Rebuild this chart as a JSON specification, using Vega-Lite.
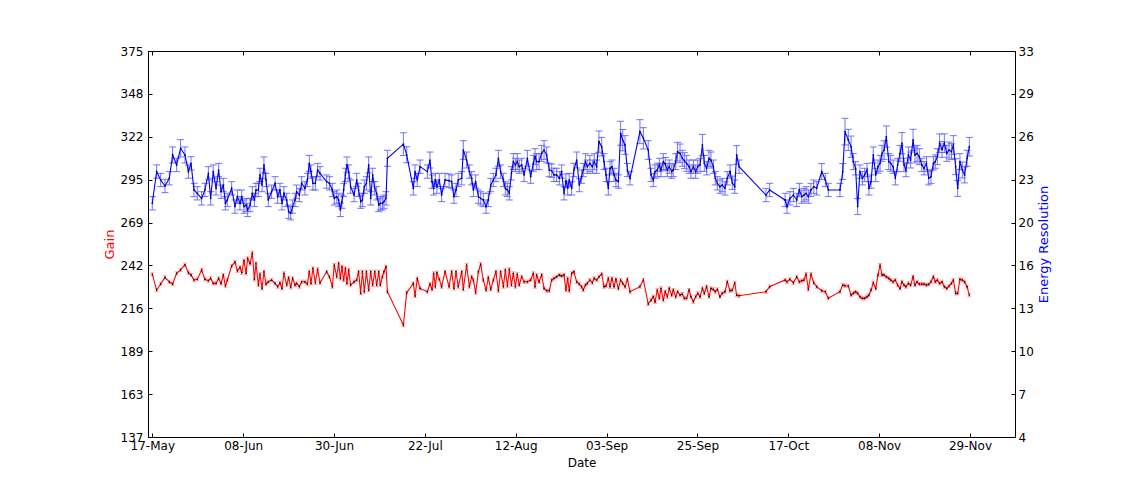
{
"$schema":"https://vega.github.io/schema/vega-lite/v6.json",
"width":867,"height":386,
"autosize":{"type":"none"},
"padding":{"left":148,"top":51,"right":109,"bottom":48},
"background":"white",
"config":{"font":"DejaVu Sans","view":{"stroke":"black","strokeWidth":1},
"axis":{"domainColor":"black","tickColor":"black","labelColor":"black","labelFont":"DejaVu Sans","labelFontSize":12,"titleFont":"DejaVu Sans","titleFontWeight":"normal","titleColor":"black","grid":false}},
"data":{"values":[
{"date":"2014-05-17T00:00Z","gain":237.3,"gain_err":1,"res":21.56,"res_err":0.5},
{"date":"2014-05-18T01:00Z","gain":227.6,"gain_err":1,"res":23.94,"res_err":0.5},
{"date":"2014-05-19T00:00Z","gain":231.3,"gain_err":1,"res":23.31,"res_err":0.5},
{"date":"2014-05-20T01:00Z","gain":235.4,"gain_err":1,"res":22.86,"res_err":0.5},
{"date":"2014-05-21T02:00Z","gain":232.7,"gain_err":1,"res":23.44,"res_err":0.5},
{"date":"2014-05-21T21:00Z","gain":231.3,"gain_err":1,"res":25.19,"res_err":0.6},
{"date":"2014-05-22T20:00Z","gain":237.9,"gain_err":1,"res":24.44,"res_err":0.5},
{"date":"2014-05-23T19:00Z","gain":240.0,"gain_err":1,"res":25.69,"res_err":0.65},
{"date":"2014-05-24T20:00Z","gain":243.2,"gain_err":1,"res":25.19,"res_err":0.6},
{"date":"2014-05-25T16:00Z","gain":238.3,"gain_err":1,"res":23.94,"res_err":0.5},
{"date":"2014-05-26T07:00Z","gain":236.9,"gain_err":1,"res":24.56,"res_err":0.5},
{"date":"2014-05-27T00:00Z","gain":233.8,"gain_err":1,"res":22.56,"res_err":0.5},
{"date":"2014-05-27T19:00Z","gain":234.2,"gain_err":1,"res":22.31,"res_err":0.5},
{"date":"2014-05-28T20:00Z","gain":240.0,"gain_err":1,"res":21.93,"res_err":0.5},
{"date":"2014-05-29T15:00Z","gain":234.2,"gain_err":1,"res":22.56,"res_err":0.5},
{"date":"2014-05-30T11:00Z","gain":233.4,"gain_err":1,"res":23.81,"res_err":0.5},
{"date":"2014-05-31T00:00Z","gain":234.8,"gain_err":1,"res":21.93,"res_err":0.5},
{"date":"2014-05-31T15:00Z","gain":231.7,"gain_err":1,"res":23.94,"res_err":0.5},
{"date":"2014-06-01T07:00Z","gain":231.7,"gain_err":1,"res":22.68,"res_err":0.5},
{"date":"2014-06-01T22:00Z","gain":234.8,"gain_err":1,"res":24.06,"res_err":0.5},
{"date":"2014-06-02T12:00Z","gain":231.7,"gain_err":1,"res":22.43,"res_err":0.5},
{"date":"2014-06-03T01:00Z","gain":236.9,"gain_err":1,"res":22.93,"res_err":0.5},
{"date":"2014-06-03T13:00Z","gain":230.1,"gain_err":1,"res":21.56,"res_err":0.5},
{"date":"2014-06-04T00:00Z","gain":233.8,"gain_err":1,"res":21.81,"res_err":0.5},
{"date":"2014-06-05T01:00Z","gain":242.4,"gain_err":1,"res":22.68,"res_err":0.5},
{"date":"2014-06-05T20:00Z","gain":244.9,"gain_err":1,"res":21.31,"res_err":0.5},
{"date":"2014-06-06T10:00Z","gain":239.5,"gain_err":1,"res":22.06,"res_err":0.5},
{"date":"2014-06-07T01:00Z","gain":241.6,"gain_err":1,"res":21.56,"res_err":0.5},
{"date":"2014-06-07T11:00Z","gain":238.3,"gain_err":1,"res":22.06,"res_err":0.5},
{"date":"2014-06-08T00:00Z","gain":245.7,"gain_err":1,"res":21.31,"res_err":0.5},
{"date":"2014-06-08T12:00Z","gain":237.9,"gain_err":1,"res":21.43,"res_err":0.5},
{"date":"2014-06-08T21:00Z","gain":247.1,"gain_err":1,"res":21.06,"res_err":0.5},
{"date":"2014-06-09T11:00Z","gain":244.0,"gain_err":1,"res":21.43,"res_err":0.5},
{"date":"2014-06-10T00:00Z","gain":250.6,"gain_err":1,"res":22.31,"res_err":0.5},
{"date":"2014-06-10T12:00Z","gain":234.2,"gain_err":1,"res":21.81,"res_err":0.5},
{"date":"2014-06-10T21:00Z","gain":244.0,"gain_err":1,"res":22.56,"res_err":0.5},
{"date":"2014-06-11T11:00Z","gain":230.7,"gain_err":1,"res":22.56,"res_err":0.5},
{"date":"2014-06-11T20:00Z","gain":237.5,"gain_err":1,"res":23.69,"res_err":0.5},
{"date":"2014-06-12T08:00Z","gain":228.6,"gain_err":1,"res":22.93,"res_err":0.5},
{"date":"2014-06-12T19:00Z","gain":238.9,"gain_err":1,"res":24.44,"res_err":0.6},
{"date":"2014-06-13T07:00Z","gain":231.3,"gain_err":1,"res":23.31,"res_err":0.5},
{"date":"2014-06-13T20:00Z","gain":232.7,"gain_err":1,"res":21.81,"res_err":0.5},
{"date":"2014-06-14T15:00Z","gain":233.8,"gain_err":1,"res":22.43,"res_err":0.5},
{"date":"2014-06-15T11:00Z","gain":231.7,"gain_err":1,"res":23.06,"res_err":0.5},
{"date":"2014-06-16T02:00Z","gain":229.7,"gain_err":1,"res":22.06,"res_err":0.5},
{"date":"2014-06-16T15:00Z","gain":232.1,"gain_err":1,"res":22.56,"res_err":0.5},
{"date":"2014-06-17T03:00Z","gain":228.6,"gain_err":1,"res":21.56,"res_err":0.5},
{"date":"2014-06-17T14:00Z","gain":237.9,"gain_err":1,"res":22.31,"res_err":0.5},
{"date":"2014-06-18T06:00Z","gain":230.7,"gain_err":1,"res":21.81,"res_err":0.5},
{"date":"2014-06-18T17:00Z","gain":235.2,"gain_err":1,"res":20.93,"res_err":0.5},
{"date":"2014-06-19T05:00Z","gain":229.3,"gain_err":1,"res":20.81,"res_err":0.5},
{"date":"2014-06-19T16:00Z","gain":234.8,"gain_err":1,"res":21.31,"res_err":0.5},
{"date":"2014-06-20T06:00Z","gain":230.7,"gain_err":1,"res":21.81,"res_err":0.5},
{"date":"2014-06-20T15:00Z","gain":231.7,"gain_err":1,"res":22.43,"res_err":0.5},
{"date":"2014-06-21T07:00Z","gain":229.7,"gain_err":1,"res":22.18,"res_err":0.5},
{"date":"2014-06-21T20:00Z","gain":232.7,"gain_err":1,"res":23.06,"res_err":0.5},
{"date":"2014-06-22T15:00Z","gain":232.7,"gain_err":1,"res":22.68,"res_err":0.5},
{"date":"2014-06-23T05:00Z","gain":231.3,"gain_err":1,"res":23.31,"res_err":0.5},
{"date":"2014-06-23T16:00Z","gain":238.9,"gain_err":1,"res":24.56,"res_err":0.6},
{"date":"2014-06-24T02:00Z","gain":231.7,"gain_err":1,"res":23.94,"res_err":0.5},
{"date":"2014-06-24T13:00Z","gain":241.0,"gain_err":1,"res":23.06,"res_err":0.5},
{"date":"2014-06-25T03:00Z","gain":232.1,"gain_err":1,"res":23.06,"res_err":0.5},
{"date":"2014-06-25T16:00Z","gain":240.4,"gain_err":1,"res":24.06,"res_err":0.5},
{"date":"2014-06-26T06:00Z","gain":232.1,"gain_err":1,"res":23.81,"res_err":0.5},
{"date":"2014-06-27T20:00Z","gain":238.9,"gain_err":1,"res":23.19,"res_err":0.5},
{"date":"2014-06-28T12:00Z","gain":235.8,"gain_err":1,"res":23.06,"res_err":0.5},
{"date":"2014-06-29T05:00Z","gain":229.7,"gain_err":1,"res":22.56,"res_err":0.5},
{"date":"2014-06-29T16:00Z","gain":243.0,"gain_err":1,"res":21.93,"res_err":0.5},
{"date":"2014-06-30T06:00Z","gain":235.8,"gain_err":1,"res":22.06,"res_err":0.5},
{"date":"2014-06-30T17:00Z","gain":244.0,"gain_err":1,"res":21.81,"res_err":0.5},
{"date":"2014-07-01T03:00Z","gain":234.8,"gain_err":1,"res":21.06,"res_err":0.5},
{"date":"2014-07-01T12:00Z","gain":242.0,"gain_err":1,"res":21.68,"res_err":0.5},
{"date":"2014-07-01T22:00Z","gain":233.8,"gain_err":1,"res":22.56,"res_err":0.5},
{"date":"2014-07-02T08:00Z","gain":241.0,"gain_err":1,"res":23.69,"res_err":0.5},
{"date":"2014-07-02T17:00Z","gain":231.7,"gain_err":1,"res":24.44,"res_err":0.6},
{"date":"2014-07-03T03:00Z","gain":240.0,"gain_err":1,"res":23.94,"res_err":0.5},
{"date":"2014-07-03T14:00Z","gain":230.7,"gain_err":1,"res":22.81,"res_err":0.5},
{"date":"2014-07-04T10:00Z","gain":232.7,"gain_err":1,"res":22.18,"res_err":0.5},
{"date":"2014-07-05T01:00Z","gain":233.8,"gain_err":1,"res":23.31,"res_err":0.5},
{"date":"2014-07-05T12:00Z","gain":238.9,"gain_err":1,"res":22.56,"res_err":0.5},
{"date":"2014-07-06T00:00Z","gain":225.6,"gain_err":1,"res":21.68,"res_err":0.5},
{"date":"2014-07-06T10:00Z","gain":238.9,"gain_err":1,"res":21.81,"res_err":0.5},
{"date":"2014-07-06T21:00Z","gain":226.6,"gain_err":1,"res":22.81,"res_err":0.5},
{"date":"2014-07-07T09:00Z","gain":238.9,"gain_err":1,"res":23.06,"res_err":0.5},
{"date":"2014-07-07T22:00Z","gain":227.6,"gain_err":1,"res":24.44,"res_err":0.6},
{"date":"2014-07-08T10:00Z","gain":238.9,"gain_err":1,"res":21.93,"res_err":0.5},
{"date":"2014-07-08T21:00Z","gain":230.7,"gain_err":1,"res":23.69,"res_err":0.5},
{"date":"2014-07-09T09:00Z","gain":238.9,"gain_err":1,"res":22.68,"res_err":0.5},
{"date":"2014-07-09T20:00Z","gain":230.7,"gain_err":1,"res":22.31,"res_err":0.5},
{"date":"2014-07-10T08:00Z","gain":238.9,"gain_err":1,"res":21.43,"res_err":0.5},
{"date":"2014-07-10T17:00Z","gain":230.7,"gain_err":1,"res":21.56,"res_err":0.5},
{"date":"2014-07-11T05:00Z","gain":235.8,"gain_err":1,"res":21.56,"res_err":0.5},
{"date":"2014-07-11T14:00Z","gain":238.9,"gain_err":1,"res":21.68,"res_err":0.5},
{"date":"2014-07-12T02:00Z","gain":242.0,"gain_err":1,"res":21.93,"res_err":0.5},
{"date":"2014-07-12T10:00Z","gain":226.6,"gain_err":1,"res":24.94,"res_err":0.6},
{"date":"2014-07-16T06:00Z","gain":206.0,"gain_err":1,"res":26.0,"res_err":0.85},
{"date":"2014-07-17T01:00Z","gain":226.0,"gain_err":1,"res":25.2,"res_err":0.6},
{"date":"2014-07-18T15:00Z","gain":231.7,"gain_err":1,"res":22.68,"res_err":0.5},
{"date":"2014-07-19T01:00Z","gain":223.9,"gain_err":1,"res":23.94,"res_err":0.5},
{"date":"2014-07-19T14:00Z","gain":234.8,"gain_err":1,"res":23.31,"res_err":0.5},
{"date":"2014-07-20T06:00Z","gain":228.6,"gain_err":1,"res":24.31,"res_err":0.5},
{"date":"2014-07-22T00:00Z","gain":226.6,"gain_err":1,"res":23.94,"res_err":0.5},
{"date":"2014-07-22T15:00Z","gain":231.3,"gain_err":1,"res":24.81,"res_err":0.6},
{"date":"2014-07-23T03:00Z","gain":228.0,"gain_err":1,"res":23.19,"res_err":0.5},
{"date":"2014-07-23T12:00Z","gain":237.9,"gain_err":1,"res":22.68,"res_err":0.5},
{"date":"2014-07-23T22:00Z","gain":229.7,"gain_err":1,"res":23.31,"res_err":0.5},
{"date":"2014-07-24T07:00Z","gain":238.3,"gain_err":1,"res":22.81,"res_err":0.5},
{"date":"2014-07-24T21:00Z","gain":234.2,"gain_err":1,"res":23.31,"res_err":0.5},
{"date":"2014-07-25T10:00Z","gain":229.7,"gain_err":1,"res":22.18,"res_err":0.5},
{"date":"2014-07-26T06:00Z","gain":238.9,"gain_err":1,"res":23.31,"res_err":0.5},
{"date":"2014-07-27T05:00Z","gain":229.7,"gain_err":1,"res":23.26,"res_err":0.5},
{"date":"2014-07-27T20:00Z","gain":238.9,"gain_err":1,"res":23.19,"res_err":0.5},
{"date":"2014-07-28T09:00Z","gain":228.6,"gain_err":1,"res":22.06,"res_err":0.5},
{"date":"2014-07-28T21:00Z","gain":238.9,"gain_err":1,"res":22.56,"res_err":0.5},
{"date":"2014-07-29T10:00Z","gain":229.7,"gain_err":1,"res":23.31,"res_err":0.5},
{"date":"2014-07-30T06:00Z","gain":238.9,"gain_err":1,"res":23.44,"res_err":0.5},
{"date":"2014-07-30T15:00Z","gain":228.0,"gain_err":1,"res":25.56,"res_err":0.7},
{"date":"2014-07-31T10:00Z","gain":243.0,"gain_err":1,"res":24.81,"res_err":0.6},
{"date":"2014-08-01T02:00Z","gain":229.7,"gain_err":1,"res":23.94,"res_err":0.5},
{"date":"2014-08-01T15:00Z","gain":235.8,"gain_err":1,"res":23.44,"res_err":0.5},
{"date":"2014-08-02T01:00Z","gain":233.8,"gain_err":1,"res":22.56,"res_err":0.5},
{"date":"2014-08-02T14:00Z","gain":226.0,"gain_err":1,"res":23.19,"res_err":0.5},
{"date":"2014-08-03T06:00Z","gain":238.9,"gain_err":1,"res":22.06,"res_err":0.5},
{"date":"2014-08-03T19:00Z","gain":243.6,"gain_err":1,"res":21.93,"res_err":0.5},
{"date":"2014-08-04T10:00Z","gain":233.8,"gain_err":1,"res":21.81,"res_err":0.5},
{"date":"2014-08-05T02:00Z","gain":227.6,"gain_err":1,"res":21.31,"res_err":0.5},
{"date":"2014-08-05T15:00Z","gain":235.4,"gain_err":1,"res":21.81,"res_err":0.5},
{"date":"2014-08-06T05:00Z","gain":228.0,"gain_err":1,"res":22.93,"res_err":0.5},
{"date":"2014-08-06T20:00Z","gain":233.8,"gain_err":1,"res":23.31,"res_err":0.5},
{"date":"2014-08-07T11:00Z","gain":238.9,"gain_err":1,"res":23.69,"res_err":0.5},
{"date":"2014-08-08T01:00Z","gain":227.2,"gain_err":1,"res":24.94,"res_err":0.6},
{"date":"2014-08-08T14:00Z","gain":238.9,"gain_err":1,"res":23.94,"res_err":0.5},
{"date":"2014-08-09T06:00Z","gain":229.7,"gain_err":1,"res":23.31,"res_err":0.5},
{"date":"2014-08-09T17:00Z","gain":240.0,"gain_err":1,"res":22.68,"res_err":0.5},
{"date":"2014-08-10T05:00Z","gain":230.1,"gain_err":1,"res":22.56,"res_err":0.5},
{"date":"2014-08-10T16:00Z","gain":240.4,"gain_err":1,"res":22.31,"res_err":0.5},
{"date":"2014-08-11T04:00Z","gain":230.7,"gain_err":1,"res":23.81,"res_err":0.5},
{"date":"2014-08-11T15:00Z","gain":237.9,"gain_err":1,"res":24.69,"res_err":0.6},
{"date":"2014-08-12T03:00Z","gain":229.7,"gain_err":1,"res":24.44,"res_err":0.5},
{"date":"2014-08-12T14:00Z","gain":237.5,"gain_err":1,"res":24.69,"res_err":0.6},
{"date":"2014-08-13T01:00Z","gain":230.7,"gain_err":1,"res":24.31,"res_err":0.5},
{"date":"2014-08-13T15:00Z","gain":235.8,"gain_err":1,"res":24.44,"res_err":0.5},
{"date":"2014-08-14T05:00Z","gain":232.7,"gain_err":1,"res":23.69,"res_err":0.5},
{"date":"2014-08-15T00:00Z","gain":232.7,"gain_err":1,"res":24.94,"res_err":0.6},
{"date":"2014-08-15T19:00Z","gain":233.8,"gain_err":1,"res":23.56,"res_err":0.5},
{"date":"2014-08-16T10:00Z","gain":237.9,"gain_err":1,"res":24.56,"res_err":0.6},
{"date":"2014-08-16T20:00Z","gain":229.7,"gain_err":1,"res":25.06,"res_err":0.6},
{"date":"2014-08-17T05:00Z","gain":236.9,"gain_err":1,"res":24.69,"res_err":0.6},
{"date":"2014-08-17T19:00Z","gain":232.7,"gain_err":1,"res":24.69,"res_err":0.6},
{"date":"2014-08-18T10:00Z","gain":236.9,"gain_err":1,"res":25.31,"res_err":0.6},
{"date":"2014-08-19T00:00Z","gain":228.6,"gain_err":1,"res":25.56,"res_err":0.7},
{"date":"2014-08-19T15:00Z","gain":227.2,"gain_err":1,"res":25.19,"res_err":0.6},
{"date":"2014-08-20T06:00Z","gain":227.2,"gain_err":1,"res":24.06,"res_err":0.5},
{"date":"2014-08-20T20:00Z","gain":233.8,"gain_err":1,"res":24.01,"res_err":0.5},
{"date":"2014-08-21T09:00Z","gain":234.8,"gain_err":1,"res":23.69,"res_err":0.5},
{"date":"2014-08-22T00:00Z","gain":235.8,"gain_err":1,"res":23.69,"res_err":0.5},
{"date":"2014-08-22T16:00Z","gain":236.9,"gain_err":1,"res":23.44,"res_err":0.5},
{"date":"2014-08-23T05:00Z","gain":236.2,"gain_err":1,"res":23.94,"res_err":0.5},
{"date":"2014-08-23T19:00Z","gain":236.9,"gain_err":1,"res":22.31,"res_err":0.5},
{"date":"2014-08-24T06:00Z","gain":227.6,"gain_err":1,"res":23.26,"res_err":0.5},
{"date":"2014-08-24T16:00Z","gain":234.8,"gain_err":1,"res":22.68,"res_err":0.5},
{"date":"2014-08-25T01:00Z","gain":227.2,"gain_err":1,"res":23.31,"res_err":0.5},
{"date":"2014-08-25T15:00Z","gain":237.9,"gain_err":1,"res":22.68,"res_err":0.5},
{"date":"2014-08-26T04:00Z","gain":238.9,"gain_err":1,"res":24.06,"res_err":0.5},
{"date":"2014-08-26T20:00Z","gain":232.7,"gain_err":1,"res":24.81,"res_err":0.6},
{"date":"2014-08-27T11:00Z","gain":231.3,"gain_err":1,"res":22.93,"res_err":0.5},
{"date":"2014-08-28T00:00Z","gain":229.7,"gain_err":1,"res":23.56,"res_err":0.5},
{"date":"2014-08-28T10:00Z","gain":227.6,"gain_err":1,"res":24.06,"res_err":0.5},
{"date":"2014-08-28T22:00Z","gain":230.7,"gain_err":1,"res":24.69,"res_err":0.6},
{"date":"2014-08-29T09:00Z","gain":231.7,"gain_err":1,"res":24.31,"res_err":0.5},
{"date":"2014-08-30T00:00Z","gain":233.8,"gain_err":1,"res":24.56,"res_err":0.6},
{"date":"2014-08-30T14:00Z","gain":232.1,"gain_err":1,"res":24.31,"res_err":0.5},
{"date":"2014-08-31T01:00Z","gain":234.8,"gain_err":1,"res":24.69,"res_err":0.6},
{"date":"2014-08-31T15:00Z","gain":233.8,"gain_err":1,"res":24.31,"res_err":0.5},
{"date":"2014-09-01T04:00Z","gain":235.8,"gain_err":1,"res":26.19,"res_err":0.8},
{"date":"2014-09-01T20:00Z","gain":237.5,"gain_err":1,"res":25.81,"res_err":0.7},
{"date":"2014-09-02T09:00Z","gain":229.7,"gain_err":1,"res":24.69,"res_err":0.6},
{"date":"2014-09-02T21:00Z","gain":230.1,"gain_err":1,"res":23.69,"res_err":0.5},
{"date":"2014-09-03T10:00Z","gain":234.8,"gain_err":1,"res":22.68,"res_err":0.5},
{"date":"2014-09-03T20:00Z","gain":229.7,"gain_err":1,"res":24.19,"res_err":0.5},
{"date":"2014-09-04T07:00Z","gain":234.8,"gain_err":1,"res":24.31,"res_err":0.5},
{"date":"2014-09-04T19:00Z","gain":229.7,"gain_err":1,"res":23.69,"res_err":0.5},
{"date":"2014-09-05T06:00Z","gain":234.2,"gain_err":1,"res":23.31,"res_err":0.5},
{"date":"2014-09-05T20:00Z","gain":228.6,"gain_err":1,"res":23.19,"res_err":0.5},
{"date":"2014-09-06T09:00Z","gain":233.8,"gain_err":1,"res":26.82,"res_err":0.9},
{"date":"2014-09-06T21:00Z","gain":231.7,"gain_err":1,"res":26.3,"res_err":0.8},
{"date":"2014-09-07T10:00Z","gain":229.7,"gain_err":1,"res":25.94,"res_err":0.7},
{"date":"2014-09-08T00:00Z","gain":234.2,"gain_err":1,"res":24.06,"res_err":0.5},
{"date":"2014-09-08T15:00Z","gain":226.6,"gain_err":1,"res":23.44,"res_err":0.5},
{"date":"2014-09-11T00:00Z","gain":229.7,"gain_err":1,"res":26.94,"res_err":0.9},
{"date":"2014-09-11T20:00Z","gain":233.8,"gain_err":1,"res":26.44,"res_err":0.8},
{"date":"2014-09-13T00:00Z","gain":219.0,"gain_err":1,"res":25.56,"res_err":0.7},
{"date":"2014-09-13T16:00Z","gain":221.4,"gain_err":1,"res":23.69,"res_err":0.5},
{"date":"2014-09-14T05:00Z","gain":223.5,"gain_err":1,"res":23.31,"res_err":0.5},
{"date":"2014-09-14T15:00Z","gain":220.4,"gain_err":1,"res":23.94,"res_err":0.5},
{"date":"2014-09-15T04:00Z","gain":227.6,"gain_err":1,"res":24.06,"res_err":0.5},
{"date":"2014-09-15T16:00Z","gain":222.5,"gain_err":1,"res":24.44,"res_err":0.5},
{"date":"2014-09-16T01:00Z","gain":228.6,"gain_err":1,"res":24.06,"res_err":0.5},
{"date":"2014-09-16T15:00Z","gain":221.4,"gain_err":1,"res":24.69,"res_err":0.6},
{"date":"2014-09-17T02:00Z","gain":226.6,"gain_err":1,"res":24.5,"res_err":0.5},
{"date":"2014-09-17T14:00Z","gain":223.5,"gain_err":1,"res":24.06,"res_err":0.5},
{"date":"2014-09-18T01:00Z","gain":228.6,"gain_err":1,"res":24.31,"res_err":0.5},
{"date":"2014-09-18T15:00Z","gain":224.5,"gain_err":1,"res":23.94,"res_err":0.5},
{"date":"2014-09-19T00:00Z","gain":227.6,"gain_err":1,"res":24.06,"res_err":0.5},
{"date":"2014-09-19T14:00Z","gain":223.5,"gain_err":1,"res":24.69,"res_err":0.6},
{"date":"2014-09-20T01:00Z","gain":226.6,"gain_err":1,"res":25.44,"res_err":0.7},
{"date":"2014-09-20T15:00Z","gain":224.5,"gain_err":1,"res":25.31,"res_err":0.7},
{"date":"2014-09-21T04:00Z","gain":225.1,"gain_err":1,"res":24.94,"res_err":0.6},
{"date":"2014-09-21T16:00Z","gain":222.5,"gain_err":1,"res":24.76,"res_err":0.6},
{"date":"2014-09-22T05:00Z","gain":222.5,"gain_err":1,"res":24.56,"res_err":0.6},
{"date":"2014-09-22T19:00Z","gain":227.6,"gain_err":1,"res":24.31,"res_err":0.5},
{"date":"2014-09-23T06:00Z","gain":223.5,"gain_err":1,"res":23.94,"res_err":0.5},
{"date":"2014-09-23T20:00Z","gain":220.4,"gain_err":1,"res":24.31,"res_err":0.5},
{"date":"2014-09-24T09:00Z","gain":223.5,"gain_err":1,"res":23.94,"res_err":0.5},
{"date":"2014-09-24T21:00Z","gain":225.6,"gain_err":1,"res":24.31,"res_err":0.5},
{"date":"2014-09-25T10:00Z","gain":223.5,"gain_err":1,"res":24.44,"res_err":0.5},
{"date":"2014-09-26T00:00Z","gain":228.6,"gain_err":1,"res":25.94,"res_err":0.8},
{"date":"2014-09-26T11:00Z","gain":225.6,"gain_err":1,"res":24.56,"res_err":0.6},
{"date":"2014-09-27T00:00Z","gain":229.7,"gain_err":1,"res":24.19,"res_err":0.5},
{"date":"2014-09-27T14:00Z","gain":223.5,"gain_err":1,"res":24.94,"res_err":0.6},
{"date":"2014-09-28T01:00Z","gain":228.6,"gain_err":1,"res":24.81,"res_err":0.6},
{"date":"2014-09-28T15:00Z","gain":228.0,"gain_err":1,"res":24.31,"res_err":0.5},
{"date":"2014-09-29T02:00Z","gain":226.6,"gain_err":1,"res":23.44,"res_err":0.5},
{"date":"2014-09-29T14:00Z","gain":228.0,"gain_err":1,"res":23.06,"res_err":0.5},
{"date":"2014-09-30T05:00Z","gain":223.5,"gain_err":1,"res":22.81,"res_err":0.5},
{"date":"2014-09-30T18:00Z","gain":225.6,"gain_err":1,"res":22.93,"res_err":0.5},
{"date":"2014-10-01T10:00Z","gain":226.6,"gain_err":1,"res":22.68,"res_err":0.5},
{"date":"2014-10-01T23:00Z","gain":232.7,"gain_err":1,"res":23.44,"res_err":0.5},
{"date":"2014-10-02T15:00Z","gain":227.2,"gain_err":1,"res":23.94,"res_err":0.5},
{"date":"2014-10-03T04:00Z","gain":227.6,"gain_err":1,"res":23.1,"res_err":0.5},
{"date":"2014-10-03T18:00Z","gain":232.1,"gain_err":1,"res":22.81,"res_err":0.5},
{"date":"2014-10-04T05:00Z","gain":224.5,"gain_err":1,"res":25.19,"res_err":0.7},
{"date":"2014-10-04T19:00Z","gain":224.1,"gain_err":1,"res":24.31,"res_err":0.5},
{"date":"2014-10-11T06:00Z","gain":226.6,"gain_err":1,"res":22.18,"res_err":0.5},
{"date":"2014-10-12T03:00Z","gain":229.7,"gain_err":1,"res":22.56,"res_err":0.5},
{"date":"2014-10-15T20:00Z","gain":233.8,"gain_err":1,"res":21.81,"res_err":0.5},
{"date":"2014-10-16T07:00Z","gain":232.7,"gain_err":1,"res":21.31,"res_err":0.5},
{"date":"2014-10-17T00:00Z","gain":234.2,"gain_err":1,"res":21.93,"res_err":0.5},
{"date":"2014-10-17T20:00Z","gain":232.1,"gain_err":1,"res":22.18,"res_err":0.5},
{"date":"2014-10-18T15:00Z","gain":235.8,"gain_err":1,"res":21.81,"res_err":0.5},
{"date":"2014-10-19T06:00Z","gain":232.7,"gain_err":1,"res":22.56,"res_err":0.5},
{"date":"2014-10-19T20:00Z","gain":233.4,"gain_err":1,"res":22.06,"res_err":0.5},
{"date":"2014-10-20T09:00Z","gain":233.8,"gain_err":1,"res":22.18,"res_err":0.5},
{"date":"2014-10-20T21:00Z","gain":237.5,"gain_err":1,"res":22.31,"res_err":0.5},
{"date":"2014-10-21T10:00Z","gain":228.0,"gain_err":1,"res":22.06,"res_err":0.5},
{"date":"2014-10-22T01:00Z","gain":237.5,"gain_err":1,"res":22.56,"res_err":0.5},
{"date":"2014-10-22T17:00Z","gain":232.1,"gain_err":1,"res":22.81,"res_err":0.5},
{"date":"2014-10-23T10:00Z","gain":229.7,"gain_err":1,"res":22.68,"res_err":0.5},
{"date":"2014-10-24T15:00Z","gain":227.2,"gain_err":1,"res":23.94,"res_err":0.6},
{"date":"2014-10-25T12:00Z","gain":226.6,"gain_err":1,"res":23.31,"res_err":0.5},
{"date":"2014-10-26T05:00Z","gain":222.5,"gain_err":1,"res":22.56,"res_err":0.5},
{"date":"2014-10-29T00:00Z","gain":226.6,"gain_err":1,"res":22.56,"res_err":0.5},
{"date":"2014-10-29T16:00Z","gain":230.7,"gain_err":1,"res":23.94,"res_err":0.6},
{"date":"2014-10-30T05:00Z","gain":230.3,"gain_err":1,"res":26.94,"res_err":1.0},
{"date":"2014-10-31T00:00Z","gain":230.1,"gain_err":1,"res":26.32,"res_err":0.8},
{"date":"2014-10-31T16:00Z","gain":224.5,"gain_err":1,"res":25.81,"res_err":0.8},
{"date":"2014-11-01T05:00Z","gain":225.6,"gain_err":1,"res":24.69,"res_err":0.6},
{"date":"2014-11-01T18:00Z","gain":226.6,"gain_err":1,"res":24.19,"res_err":0.5},
{"date":"2014-11-02T06:00Z","gain":225.6,"gain_err":1,"res":21.31,"res_err":0.6},
{"date":"2014-11-02T19:00Z","gain":223.5,"gain_err":1,"res":23.94,"res_err":0.5},
{"date":"2014-11-03T09:00Z","gain":222.5,"gain_err":1,"res":23.44,"res_err":0.5},
{"date":"2014-11-03T22:00Z","gain":222.5,"gain_err":1,"res":23.69,"res_err":0.5},
{"date":"2014-11-04T12:00Z","gain":223.5,"gain_err":1,"res":24.06,"res_err":0.5},
{"date":"2014-11-04T23:00Z","gain":224.5,"gain_err":1,"res":22.68,"res_err":0.5},
{"date":"2014-11-05T11:00Z","gain":227.6,"gain_err":1,"res":23.19,"res_err":0.5},
{"date":"2014-11-06T00:00Z","gain":232.1,"gain_err":1,"res":25.19,"res_err":0.6},
{"date":"2014-11-06T14:00Z","gain":228.6,"gain_err":1,"res":23.69,"res_err":0.5},
{"date":"2014-11-07T03:00Z","gain":236.9,"gain_err":1,"res":24.31,"res_err":0.5},
{"date":"2014-11-07T15:00Z","gain":243.0,"gain_err":1,"res":24.56,"res_err":0.6},
{"date":"2014-11-08T02:00Z","gain":236.9,"gain_err":1,"res":25.31,"res_err":0.6},
{"date":"2014-11-08T14:00Z","gain":236.9,"gain_err":1,"res":25.56,"res_err":0.7},
{"date":"2014-11-09T03:00Z","gain":235.8,"gain_err":1,"res":26.57,"res_err":0.8},
{"date":"2014-11-09T17:00Z","gain":234.8,"gain_err":1,"res":24.69,"res_err":0.6},
{"date":"2014-11-10T04:00Z","gain":233.8,"gain_err":1,"res":24.56,"res_err":0.6},
{"date":"2014-11-10T18:00Z","gain":232.7,"gain_err":1,"res":24.31,"res_err":0.5},
{"date":"2014-11-11T07:00Z","gain":233.8,"gain_err":1,"res":23.44,"res_err":0.5},
{"date":"2014-11-11T20:00Z","gain":230.7,"gain_err":1,"res":24.44,"res_err":0.5},
{"date":"2014-11-12T10:00Z","gain":228.6,"gain_err":1,"res":25.31,"res_err":0.6},
{"date":"2014-11-12T21:00Z","gain":232.7,"gain_err":1,"res":26.07,"res_err":0.8},
{"date":"2014-11-13T09:00Z","gain":230.7,"gain_err":1,"res":24.44,"res_err":0.5},
{"date":"2014-11-13T20:00Z","gain":229.7,"gain_err":1,"res":24.06,"res_err":0.5},
{"date":"2014-11-14T10:00Z","gain":231.7,"gain_err":1,"res":25.19,"res_err":0.6},
{"date":"2014-11-14T23:00Z","gain":230.7,"gain_err":1,"res":24.81,"res_err":0.6},
{"date":"2014-11-15T13:00Z","gain":235.8,"gain_err":1,"res":26.32,"res_err":0.8},
{"date":"2014-11-16T00:00Z","gain":230.7,"gain_err":1,"res":25.19,"res_err":0.6},
{"date":"2014-11-16T12:00Z","gain":232.7,"gain_err":1,"res":25.31,"res_err":0.6},
{"date":"2014-11-17T01:00Z","gain":231.3,"gain_err":1,"res":25.06,"res_err":0.6},
{"date":"2014-11-17T15:00Z","gain":231.3,"gain_err":1,"res":24.44,"res_err":0.5},
{"date":"2014-11-18T04:00Z","gain":231.3,"gain_err":1,"res":24.19,"res_err":0.5},
{"date":"2014-11-18T18:00Z","gain":230.7,"gain_err":1,"res":24.56,"res_err":0.5},
{"date":"2014-11-19T07:00Z","gain":231.1,"gain_err":1,"res":23.44,"res_err":0.5},
{"date":"2014-11-19T20:00Z","gain":232.7,"gain_err":1,"res":23.56,"res_err":0.5},
{"date":"2014-11-20T10:00Z","gain":235.8,"gain_err":1,"res":24.56,"res_err":0.5},
{"date":"2014-11-20T21:00Z","gain":232.7,"gain_err":1,"res":24.69,"res_err":0.5},
{"date":"2014-11-21T09:00Z","gain":233.8,"gain_err":1,"res":25.06,"res_err":0.6},
{"date":"2014-11-21T22:00Z","gain":231.7,"gain_err":1,"res":26.07,"res_err":0.7},
{"date":"2014-11-22T12:00Z","gain":232.7,"gain_err":1,"res":25.61,"res_err":0.6},
{"date":"2014-11-23T01:00Z","gain":229.7,"gain_err":1,"res":26.07,"res_err":0.7},
{"date":"2014-11-23T15:00Z","gain":228.6,"gain_err":1,"res":25.31,"res_err":0.6},
{"date":"2014-11-24T04:00Z","gain":230.1,"gain_err":1,"res":25.56,"res_err":0.6},
{"date":"2014-11-24T18:00Z","gain":231.7,"gain_err":1,"res":25.44,"res_err":0.6},
{"date":"2014-11-25T05:00Z","gain":233.8,"gain_err":1,"res":25.94,"res_err":0.7},
{"date":"2014-11-25T18:00Z","gain":225.6,"gain_err":1,"res":24.31,"res_err":0.6},
{"date":"2014-11-26T06:00Z","gain":225.6,"gain_err":1,"res":22.68,"res_err":0.6},
{"date":"2014-11-26T19:00Z","gain":234.2,"gain_err":1,"res":24.69,"res_err":0.6},
{"date":"2014-11-27T09:00Z","gain":233.8,"gain_err":1,"res":24.06,"res_err":0.6},
{"date":"2014-11-27T22:00Z","gain":232.7,"gain_err":1,"res":23.69,"res_err":0.6},
{"date":"2014-11-28T12:00Z","gain":229.7,"gain_err":1,"res":24.94,"res_err":0.6},
{"date":"2014-11-29T01:00Z","gain":224.5,"gain_err":1,"res":25.81,"res_err":0.7}
]},
"layer":[
{"encoding":{
  "x":{"field":"date","type":"temporal","scale":{"type":"utc","domain":[1400195800000,1418169600000]},
    "axis":{"orient":"bottom","title":"Date","titleFontSize":12,"values":[1400284800000,1402168320000,1404051840000,1405935360000,1407818880000,1409702400000,1411585920000,1413469440000,1415352960000,1417236480000],
      "labelExpr":"['17-May','08-Jun','30-Jun','22-Jul','12-Aug','03-Sep','25-Sep','17-Oct','08-Nov','29-Nov'][round((datum.value - 1400284800000) / 1883520000)]",
      "tickSize":-4,"labelPadding":7,"titlePadding":6,"labelFlush":false,"labelOverlap":false}},
  "y":{"field":"gain","type":"quantitative","scale":{"domain":[137,375],"nice":false,"zero":false},
    "axis":{"orient":"left","title":"Gain","titleColor":"#ff0000","titleFontSize":13,"values":[137,163.444,189.889,216.333,242.778,269.222,295.667,322.111,348.556,375],"labelExpr":"floor(datum.value)","tickSize":-4,"labelPadding":9,"titlePadding":4}}},
 "layer":[
  {"mark":{"type":"errorbar","ticks":{"size":4},"color":"#ff8080","thickness":1},
   "encoding":{"y":{"field":"gain","type":"quantitative","scale":{"domain":[137,375],"nice":false,"zero":false}},"yError":{"field":"gain_err"}}},
  {"mark":{"type":"line","color":"#ff0000","strokeWidth":1.1}},
  {"mark":{"type":"point","filled":true,"size":3,"color":"#000000","opacity":0.9}}
 ]},
{"encoding":{
  "x":{"field":"date","type":"temporal","scale":{"type":"utc","domain":[1400195800000,1418169600000]},
    "axis":{"orient":"top","title":null,"labels":false,"values":[1400284800000,1402168320000,1404051840000,1405935360000,1407818880000,1409702400000,1411585920000,1413469440000,1415352960000,1417236480000],"tickSize":-4}},
  "y":{"field":"res","type":"quantitative","scale":{"domain":[4,33],"nice":false,"zero":false},
    "axis":{"orient":"right","title":"Energy Resolution","titleColor":"#0000ff","titleFontSize":13,"titleAngle":270,"titleBaseline":"top","values":[4,7.222,10.444,13.667,16.889,20.111,23.333,26.556,29.778,33],"labelExpr":"floor(datum.value)","tickSize":-4,"labelPadding":7,"titlePadding":4}}},
 "layer":[
  {"mark":{"type":"errorbar","ticks":{"size":7},"color":"#5a5aff","thickness":1,"opacity":0.85},
   "encoding":{"y":{"field":"res","type":"quantitative","scale":{"domain":[4,33],"nice":false,"zero":false}},"yError":{"field":"res_err"}}},
  {"mark":{"type":"line","color":"#0000ff","strokeWidth":1.1}},
  {"mark":{"type":"point","filled":true,"size":3,"color":"#000033","opacity":0.9}}
 ]}
],
"resolve":{"scale":{"y":"independent"},"axis":{"x":"independent"}}
}
